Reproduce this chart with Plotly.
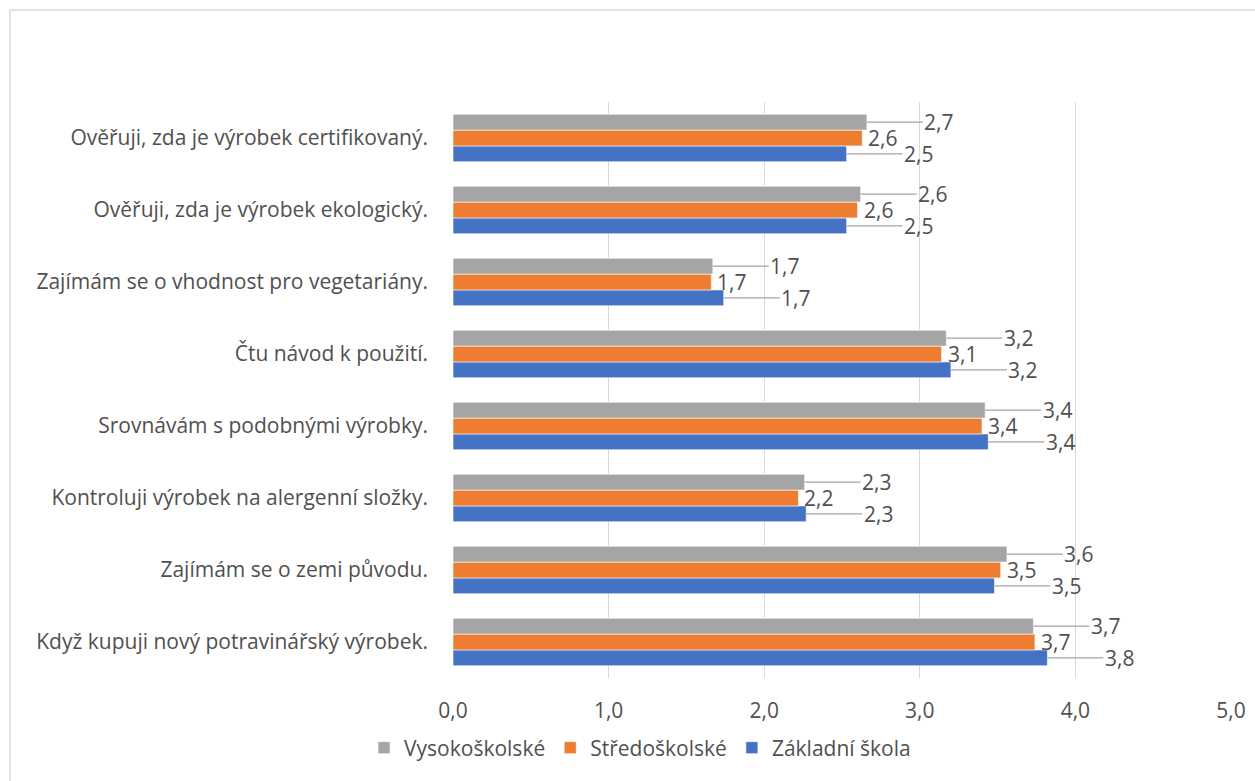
import plotly.graph_objects as go

# Categories, listed top to bottom as they appear in the chart
categories = [
    "Ověřuji, zda je výrobek certifikovaný.",
    "Ověřuji, zda je výrobek ekologický.",
    "Zajímám se o vhodnost pro vegetariány.",
    "Čtu návod k použití.",
    "Srovnávám s podobnými výrobky.",
    "Kontroluji výrobek na alergenní složky.",
    "Zajímám se o zemi původu.",
    "Když kupuji nový potravinářský výrobek.",
]

# Mean scores by education level
vysokoskolske = [2.66, 2.62, 1.67, 3.17, 3.42, 2.26, 3.56, 3.73]
stredoskolske = [2.63, 2.60, 1.66, 3.14, 3.40, 2.22, 3.52, 3.74]
zakladni = [2.53, 2.53, 1.74, 3.20, 3.44, 2.27, 3.48, 3.82]

x_ticks = [0, 1, 2, 3, 4, 5]

FONT = "'Open Sans', sans-serif"
SIZE = 21
TEXT = "#505050"
LEADER = "#A5A5A5"

W, H = 1255, 781
PLOT_TOP, PLOT_BOTTOM = 102, 678
BARGAP = 0.34

# Bar order inside a group: first trace is drawn lowest
series = [
    ("Základní škola", zakladni, "#4472C4"),
    ("Středoškolské", stredoskolske, "#ED7D31"),
    ("Vysokoškolské", vysokoskolske, "#A5A5A5"),
]


def fmt(v):
    return f"{v:.1f}".replace(".", ",")


fig = go.Figure()
for name, vals, color in series:
    fig.add_trace(go.Bar(
        y=categories,
        x=vals,
        name=name,
        orientation="h",
        marker=dict(color=color, line=dict(color="white", width=0.6)),
        hovertemplate="%{y}<br>" + name + ": %{x:.2f}<extra></extra>",
    ))

# Pixel height of a single bar, used to place labels beside each bar
slot = (PLOT_BOTTOM - PLOT_TOP) / len(categories)
bar_h = slot * (1 - BARGAP) / len(series)

annotations = []
for i, (name, vals, color) in enumerate(series):
    shift = (i - 1) * bar_h
    for cat, v in zip(categories, vals):
        if name == "Středoškolské":
            # middle bar: label right at the bar end
            annotations.append(dict(
                x=v, y=cat, xref="x", yref="y", text=fmt(v),
                showarrow=False, xanchor="left", yanchor="middle",
                xshift=4, yshift=shift,
                font=dict(family=FONT, size=SIZE, color=TEXT),
            ))
        else:
            # outer bars: label pushed right with a leader line
            annotations.append(dict(
                x=v, y=cat, xref="x", yref="y", text=fmt(v),
                showarrow=True, arrowhead=0, arrowwidth=1.3,
                arrowcolor=LEADER, ax=72, ay=0, standoff=0,
                yshift=shift,
                font=dict(family=FONT, size=SIZE, color=TEXT),
            ))

fig.update_layout(
    width=W,
    height=H,
    margin=dict(l=0, r=0, t=0, b=0),
    paper_bgcolor="white",
    plot_bgcolor="white",
    barmode="group",
    bargap=BARGAP,
    bargroupgap=0,
    separators=", ",
    font=dict(family=FONT, size=SIZE, color=TEXT),
    xaxis=dict(
        domain=[453 / W, 1231 / W],
        range=[0, 5],
        tickvals=x_ticks,
        tickformat=".1f",
        showgrid=True,
        gridcolor="#D9D9D9",
        gridwidth=1,
        zeroline=False,
        showline=False,
        ticks="",
        ticklabelstandoff=18,
        tickfont=dict(family=FONT, size=SIZE, color=TEXT),
        automargin=False,
    ),
    yaxis=dict(
        domain=[1 - PLOT_BOTTOM / H, 1 - PLOT_TOP / H],
        categoryorder="array",
        categoryarray=categories[::-1],
        showgrid=False,
        zeroline=False,
        showline=False,
        ticks="",
        ticklabelstandoff=24,
        tickfont=dict(family=FONT, size=SIZE, color=TEXT),
        automargin=False,
    ),
    legend=dict(
        orientation="h",
        traceorder="reversed",
        x=0.51,
        xanchor="center",
        y=1 - 748 / H,
        yanchor="middle",
        font=dict(family=FONT, size=SIZE, color=TEXT),
        itemwidth=30,
        tracegroupgap=0,
    ),
    annotations=annotations,
    shapes=[dict(
        type="rect", xref="paper", yref="paper",
        x0=10 / W, x1=1.01, y0=-0.01, y1=1 - 10 / H,
        line=dict(color="#D9D9D9", width=1.5),
        fillcolor="rgba(0,0,0,0)",
        layer="below",
    )],
)

fig.write_html("out.html")
